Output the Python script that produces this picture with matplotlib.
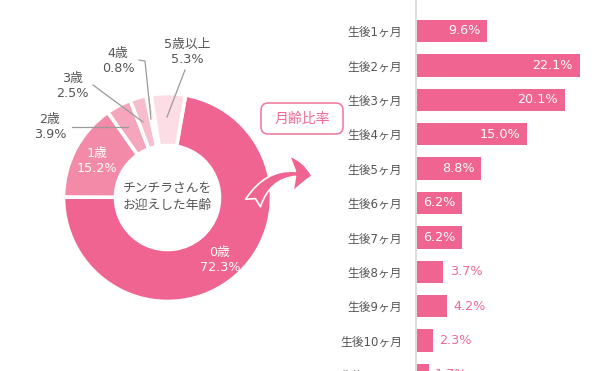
import matplotlib
matplotlib.use("Agg")
import matplotlib.pyplot as plt
from matplotlib.patches import FancyArrowPatch, FancyBboxPatch

plt.rcParams['font.family'] = ['DejaVu Sans', 'Noto Sans CJK JP']

# ---- data ----
age_labels = ["0歳", "1歳", "2歳", "3歳", "4歳", "5歳以上"]
age_values = [72.3, 15.2, 3.9, 2.5, 0.8, 5.3]
age_colors = ["#EF6490", "#F28AA8", "#F5A5BC", "#F8BDCD", "#FACBD8", "#FCDDE5"]

month_labels = ["生後1ヶ月", "生後2ヶ月", "生後3ヶ月", "生後4ヶ月", "生後5ヶ月", "生後6ヶ月",
                "生後7ヶ月", "生後8ヶ月", "生後9ヶ月", "生後10ヶ月", "生後11ヶ月"]
month_values = [9.6, 22.1, 20.1, 15.0, 8.8, 6.2, 6.2, 3.7, 4.2, 2.3, 1.7]

center_text = "チンチラさんを\nお迎えした年齢"
box_text = "月齢比率"

PINK = "#EF6490"
GRAY = "#555555"

W, H = 600, 371
fig = plt.figure(figsize=(6, 3.71), dpi=100)
fig.patch.set_facecolor("white")

# ---- donut ----
cx, cy, R = 167.5, 197.5, 104.0
S = 260.0
L = S / 2 / R
axp = fig.add_axes([(cx - S / 2) / W, (H - cy - S / 2) / H, S / W, S / H])
axp.set_xlim(-L, L)
axp.set_ylim(-L, L)
axp.set_aspect("equal")
axp.axis("off")
axp.pie(age_values, colors=age_colors, startangle=80, counterclock=False,
        radius=1.0, wedgeprops=dict(width=0.5, edgecolor="white", linewidth=2.6))


def P(px, py):
    return ((px - cx) / R, (cy - py) / R)


# inside labels
for i, (px, py) in [(0, (220, 260)), (1, (97, 161))]:
    axp.text(*P(px, py), f"{age_labels[i]}\n{age_values[i]}%", color="white",
             ha="center", va="center", fontsize=9.2, linespacing=1.2, clip_on=False)

# outside labels with leader lines
outside = {
    2: ((50, 127), [(72, 127), (128, 127)]),
    3: ((72, 86), [(93, 85), (143, 122)]),
    4: ((118, 61), [(139, 60), (145, 61), (151, 119)]),
    5: ((187, 52), [(185, 70), (167, 117)]),
}
for i, ((px, py), pts) in outside.items():
    axp.text(*P(px, py), f"{age_labels[i]}\n{age_values[i]}%", color=GRAY,
             ha="center", va="center", fontsize=9.2, linespacing=1.2, clip_on=False)
    xs = [P(a, b)[0] for a, b in pts]
    ys = [P(a, b)[1] for a, b in pts]
    axp.plot(xs, ys, color="#9a9a9a", lw=0.9, clip_on=False)

axp.text(*P(167, 197), center_text, color=GRAY, ha="center", va="center",
         fontsize=9.2, linespacing=1.35)

# box label
bx0, by0, bx1, by1 = 261, 103, 343, 134
x0, y1 = P(bx0, by1)
x1, y0 = P(bx1, by0)
box = FancyBboxPatch((x0, y1), x1 - x0, y0 - y1,
                     boxstyle="round,pad=0,rounding_size=0.07",
                     facecolor="white", edgecolor="#F07FA0", lw=1.2, clip_on=False)
axp.add_patch(box)
axp.text((x0 + x1) / 2, (y0 + y1) / 2, box_text, color="#EE6A92",
         ha="center", va="center", fontsize=10, clip_on=False)

# curved arrow
arr = FancyArrowPatch(P(253, 203), P(312, 176),
                      connectionstyle="arc3,rad=-0.4",
                      arrowstyle="fancy,head_length=15,head_width=26,tail_width=12",
                      facecolor=PINK, edgecolor="white", lw=1.2, clip_on=False,
                      mutation_scale=1.0, shrinkA=0, shrinkB=0)
axp.add_patch(arr)

# ---- bars ----
x_axis = 416.0
px_per = 7.42
row0, step = 31.0, 34.4
bottom_px = 411.0
axb = fig.add_axes([x_axis / W, (H - bottom_px) / H, (W - x_axis) / W, bottom_px / H])
axb.set_xlim(0, (W - x_axis) / px_per)
axb.set_ylim((bottom_px - row0) / step, -row0 / step)
ypos = list(range(len(month_values)))
axb.barh(ypos, month_values, height=0.65, color=PINK, edgecolor="none")
axb.set_yticks(ypos)
axb.set_yticklabels(month_labels, fontsize=8.5, color=GRAY)
axb.tick_params(axis="y", length=0, pad=10)
axb.set_xticks([])
for s in ["top", "right", "bottom"]:
    axb.spines[s].set_visible(False)
axb.spines["left"].set_color("#DDDDDD")
axb.spines["left"].set_linewidth(1.5)
axb.set_facecolor("none")

for y, v in zip(ypos, month_values):
    if v >= 5:
        axb.annotate(f"{v}%", (v, y), xytext=(-5, 0), textcoords="offset points",
                     ha="right", va="center", color="white", fontsize=9.2)
    else:
        axb.annotate(f"{v}%", (v, y), xytext=(4.5, 0), textcoords="offset points",
                     ha="left", va="center", color="#EE6A92", fontsize=9.2)

fig.savefig("out.png", dpi=100, facecolor="white")
